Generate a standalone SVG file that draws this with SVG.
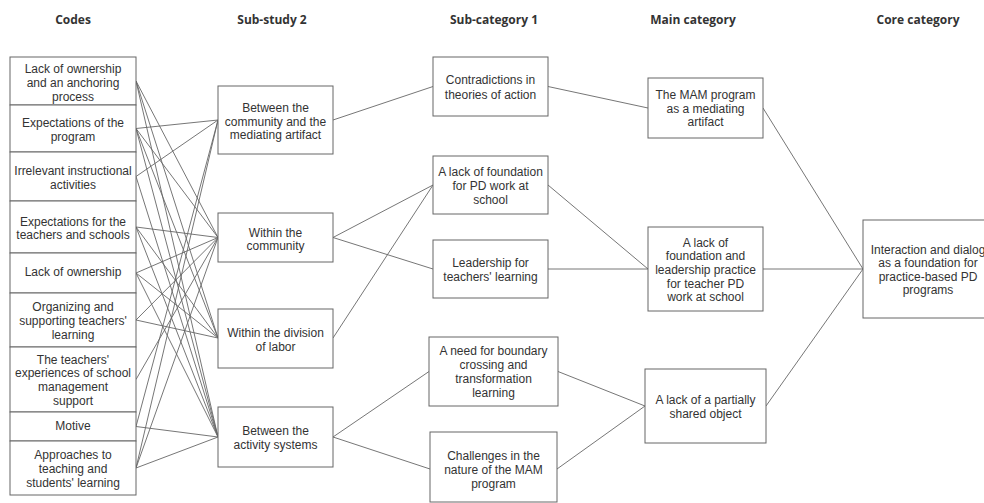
<svg xmlns="http://www.w3.org/2000/svg" width="984" height="503" viewBox="0 0 984 503">
  <style>
    .hd { font-family: "Open Sans", "Liberation Sans", sans-serif; font-weight: 700; font-size: 12px; fill: #333; text-anchor: middle; }
    .box { fill: #fff; stroke: #666; stroke-width: 1; }
    .lbl { font-family: "Liberation Sans", Arial, sans-serif; font-size: 12px; fill: #333; text-anchor: middle; }
    .edge { stroke: #666; stroke-width: 0.9; fill: none; }
  </style>
  <rect width="984" height="503" fill="#fff"/>

  <!-- column headings -->
  <g id="headings">
    <text class="hd" x="73" y="24">Codes</text>
    <text class="hd" x="272" y="24">Sub-study 2</text>
    <text class="hd" x="494" y="24">Sub-category 1</text>
    <text class="hd" x="693" y="24">Main category</text>
    <text class="hd" x="918" y="24">Core category</text>
  </g>

  <!-- connectors (drawn under the boxes) -->
  <g id="connectors" class="edge">
    <!-- codes to sub-study 2 -->
    <path d="M136,81 L218,237.5"/>
    <path d="M136,81 L218,338"/>
    <path d="M136,81 L218,437"/>
    <path d="M136,128.5 L218,120"/>
    <path d="M136,128.5 L218,237.5"/>
    <path d="M136,128.5 L218,338"/>
    <path d="M136,128.5 L218,437"/>
    <path d="M136,176.5 L218,120"/>
    <path d="M136,176.5 L218,437"/>
    <path d="M136,227 L218,237.5"/>
    <path d="M136,227 L218,338"/>
    <path d="M136,227 L218,437"/>
    <path d="M136,273 L218,237.5"/>
    <path d="M136,273 L218,338"/>
    <path d="M136,273 L218,437"/>
    <path d="M136,320 L218,237.5"/>
    <path d="M136,320 L218,338"/>
    <path d="M136,379.5 L218,237.5"/>
    <path d="M136,426.5 L218,120"/>
    <path d="M136,426.5 L218,437"/>
    <path d="M136,468 L218,120"/>
    <path d="M136,468 L218,237.5"/>
    <path d="M136,468 L218,437"/>
    <!-- sub-study 2 to sub-category 1 -->
    <path d="M333,120 L433,86.5"/>
    <path d="M333,237.5 L433,185"/>
    <path d="M333,237.5 L433,269"/>
    <path d="M333,338 L433,185"/>
    <path d="M333,437 L429,371.5"/>
    <path d="M333,437 L430,469"/>
    <!-- sub-category 1 to main category -->
    <path d="M548,86.5 L648,108"/>
    <path d="M548,185 L648,269"/>
    <path d="M548,269 L648,269"/>
    <path d="M558,371.5 L645,406"/>
    <path d="M557,469 L645,406"/>
    <!-- main category to core category -->
    <path d="M763,108 L863,269"/>
    <path d="M763,269 L863,269"/>
    <path d="M766,406 L863,269"/>
  </g>

  <!-- codes -->
  <g id="code-1"><rect class="box" x="10" y="57" width="126" height="48"/>
    <text class="lbl" x="73" y="72.5">Lack of ownership</text><text class="lbl" x="73" y="86.5">and an anchoring</text><text class="lbl" x="73" y="100.5">process</text></g>
  <g id="code-2"><rect class="box" x="10" y="105" width="126" height="47"/>
    <text class="lbl" x="73" y="126.5">Expectations of the</text><text class="lbl" x="73" y="140.5">program</text></g>
  <g id="code-3"><rect class="box" x="10" y="152" width="126" height="49"/>
    <text class="lbl" x="73" y="175">Irrelevant instructional</text><text class="lbl" x="73" y="188.5">activities</text></g>
  <g id="code-4"><rect class="box" x="10" y="201" width="126" height="52"/>
    <text class="lbl" x="73" y="225.5">Expectations for the</text><text class="lbl" x="73" y="239">teachers and schools</text></g>
  <g id="code-5"><rect class="box" x="10" y="253" width="126" height="40"/>
    <text class="lbl" x="73" y="276">Lack of ownership</text></g>
  <g id="code-6"><rect class="box" x="10" y="293" width="126" height="54"/>
    <text class="lbl" x="73" y="311">Organizing and</text><text class="lbl" x="73" y="325">supporting teachers'</text><text class="lbl" x="73" y="338.5">learning</text></g>
  <g id="code-7"><rect class="box" x="10" y="347" width="126" height="65"/>
    <text class="lbl" x="73" y="363.5">The teachers'</text><text class="lbl" x="73" y="377">experiences of school</text><text class="lbl" x="73" y="391">management</text><text class="lbl" x="73" y="405">support</text></g>
  <g id="code-8"><rect class="box" x="10" y="412" width="126" height="29"/>
    <text class="lbl" x="73" y="430">Motive</text></g>
  <g id="code-9"><rect class="box" x="10" y="441" width="126" height="54"/>
    <text class="lbl" x="73" y="458.5">Approaches to</text><text class="lbl" x="73" y="473">teaching and</text><text class="lbl" x="73" y="487">students' learning</text></g>

  <!-- sub-study 2 -->
  <g id="sub-study-a"><rect class="box" x="218" y="86" width="115" height="68"/>
    <text class="lbl" x="275.5" y="111.5">Between the</text><text class="lbl" x="275.5" y="125.5">community and the</text><text class="lbl" x="275.5" y="139">mediating artifact</text></g>
  <g id="sub-study-b"><rect class="box" x="218" y="213" width="115" height="49"/>
    <text class="lbl" x="275.5" y="237">Within the</text><text class="lbl" x="275.5" y="250">community</text></g>
  <g id="sub-study-c"><rect class="box" x="218" y="309" width="115" height="59"/>
    <text class="lbl" x="275.5" y="337">Within the division</text><text class="lbl" x="275.5" y="351">of labor</text></g>
  <g id="sub-study-d"><rect class="box" x="218" y="407" width="115" height="60"/>
    <text class="lbl" x="275.5" y="435">Between the</text><text class="lbl" x="275.5" y="448.5">activity systems</text></g>

  <!-- sub-category 1 -->
  <g id="subcat-contradictions"><rect class="box" x="433" y="57" width="115" height="59"/>
    <text class="lbl" x="490.5" y="84">Contradictions in</text><text class="lbl" x="490.5" y="98.5">theories of action</text></g>
  <g id="subcat-foundation"><rect class="box" x="433" y="156" width="115" height="58"/>
    <text class="lbl" x="490.5" y="176">A lack of foundation</text><text class="lbl" x="490.5" y="190">for PD work at</text><text class="lbl" x="490.5" y="204">school</text></g>
  <g id="subcat-leadership"><rect class="box" x="433" y="240" width="115" height="58"/>
    <text class="lbl" x="490.5" y="267">Leadership for</text><text class="lbl" x="490.5" y="281">teachers' learning</text></g>
  <g id="subcat-boundary"><rect class="box" x="429" y="337" width="129" height="69"/>
    <text class="lbl" x="493.5" y="355">A need for boundary</text><text class="lbl" x="493.5" y="369">crossing and</text><text class="lbl" x="493.5" y="383">transformation</text><text class="lbl" x="493.5" y="396.5">learning</text></g>
  <g id="subcat-challenges"><rect class="box" x="430" y="432" width="127" height="70"/>
    <text class="lbl" x="493.5" y="460">Challenges in the</text><text class="lbl" x="493.5" y="474">nature of the MAM</text><text class="lbl" x="493.5" y="488">program</text></g>

  <!-- main category -->
  <g id="main-mediating"><rect class="box" x="648" y="78" width="115" height="60"/>
    <text class="lbl" x="705.5" y="98.5">The MAM program</text><text class="lbl" x="705.5" y="112.5">as a mediating</text><text class="lbl" x="705.5" y="126">artifact</text></g>
  <g id="main-leadership"><rect class="box" x="648" y="227" width="115" height="84"/>
    <text class="lbl" x="705.5" y="246.5">A lack of</text><text class="lbl" x="705.5" y="260">foundation and</text><text class="lbl" x="705.5" y="273.5">leadership practice</text><text class="lbl" x="705.5" y="287.5">for teacher PD</text><text class="lbl" x="705.5" y="301">work at school</text></g>
  <g id="main-object"><rect class="box" x="645" y="369" width="121" height="74"/>
    <text class="lbl" x="705.5" y="404">A lack of a partially</text><text class="lbl" x="705.5" y="417.5">shared object</text></g>

  <!-- core category -->
  <g id="core"><rect class="box" x="863" y="220" width="140" height="98"/>
    <text class="lbl" x="928" y="253.5">Interaction and dialog</text><text class="lbl" x="928" y="267">as a foundation for</text><text class="lbl" x="928" y="281">practice-based PD</text><text class="lbl" x="928" y="294">programs</text></g>
</svg>
